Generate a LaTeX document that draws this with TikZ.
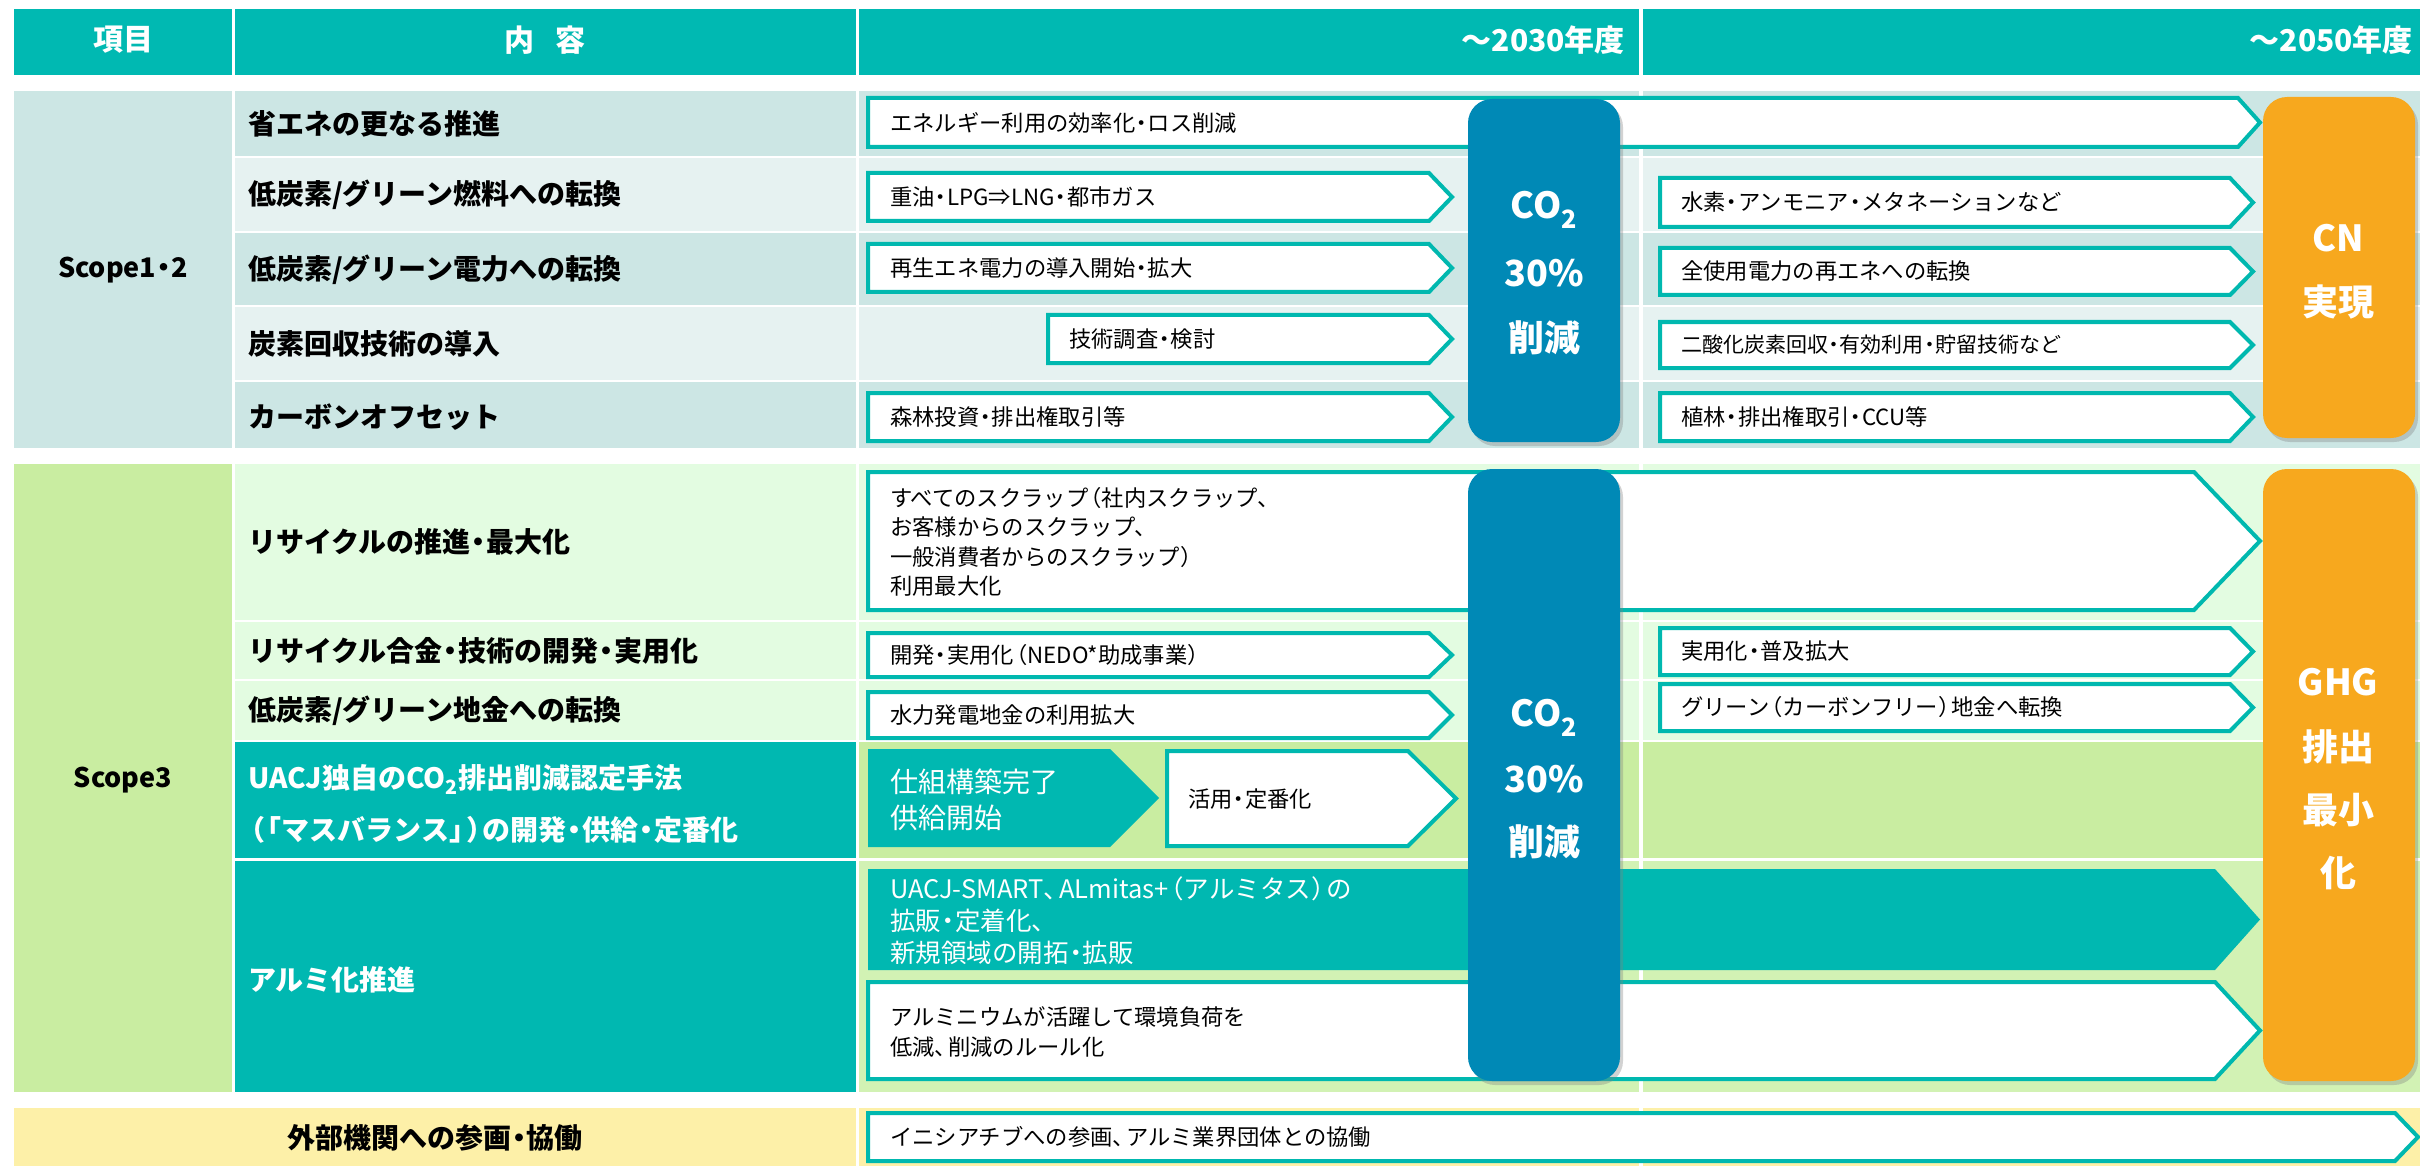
\documentclass[tikz,border=0pt]{standalone}
\usepackage{fontspec}
\setmainfont{Noto Sans CJK JP}
\usetikzlibrary{shadows}
\definecolor{hdr}{HTML}{00B9B2}
\definecolor{rowdk}{HTML}{CCE6E4}
\definecolor{rowlt}{HTML}{E6F2F1}
\definecolor{grn}{HTML}{C9EDA1}
\definecolor{grnlt}{HTML}{E3FCE1}
\definecolor{grnmd}{HTML}{D2F2B4}
\definecolor{tealf}{HTML}{00B8B1}
\definecolor{tealb}{HTML}{00B8AF}
\definecolor{co2blue}{HTML}{0089B6}
\definecolor{orng}{HTML}{F7A81E}
\definecolor{ylw}{HTML}{FDF0A8}
\newcommand\fsz[2]{\fontsize{#1}{#2}\selectfont}
\newcommand\nd{\hspace{-0.22em}・\hspace{-0.22em}}
\newcommand\lpar{\hspace*{-0.4em}（}
\newcommand\rpar{）\hspace{-0.4em}}
\newcommand\tou{、\hspace{-0.4em}}
\newcommand\lkk{\hspace{-0.4em}「}
\newcommand\rkk{」\hspace{-0.4em}}
\newcommand\chevbox[6]{\path[#1] (#2,#3) -- (#4,#3) -- (#5,{(#3+#6)/2}) -- (#4,#6) -- (#2,#6) -- cycle;}
\begin{document}
\begin{tikzpicture}[x=1pt,y=-1pt,
 lbl/.style={anchor=west,inner sep=0pt,font=\fsz{28}{32}\bfseries},
 wlbl/.style={lbl,text=white},
 btxt/.style={anchor=west,inner sep=0pt,font=\fsz{22.3}{29.5}},
 hd/.style={inner sep=0pt,text=white,font=\fsz{30}{34}\bfseries},
 big/.style={inner sep=0pt,text=white,font=\fsz{36}{40}\bfseries},
 abox/.style={draw=tealb,fill=white,line width=4pt},
 tfill/.style={fill=tealf},
 pill/.style={rounded corners=24pt,minimum width=152pt,inner sep=0pt,
   drop shadow={shadow xshift=3pt,shadow yshift=-4pt,opacity=0.35}},
]
\useasboundingbox (0,0) rectangle (2420,1166);
\fill[white] (0,0) rectangle (2420,1166);
% header
\fill[hdr] (14,9) rectangle (232,75);
\fill[hdr] (235,9) rectangle (856,75);
\fill[hdr] (859,9) rectangle (1639,75);
\fill[hdr] (1643,9) rectangle (2420,75);
% scope1-2
\fill[rowdk] (14,91) rectangle (232,448);
\foreach \a/\b/\c in {91/156/rowdk,158/231/rowlt,233/305/rowdk,307/380/rowlt,382/448/rowdk}{
  \fill[\c] (235,\a) rectangle (856,\b);
  \fill[\c] (859,\a) rectangle (1639,\b);
  \fill[\c] (1643,\a) rectangle (2420,\b);
}
% scope3
\fill[grn] (14,464) rectangle (232,1092);
\foreach \a/\b/\c/\d in {464/620/grnlt/grnlt,622/679/grnlt/grnlt,681/740/grnlt/grnlt,742/858/tealf/grn,861/1092/tealf/grnmd}{
  \fill[\c] (235,\a) rectangle (856,\b);
  \fill[\d] (859,\a) rectangle (1639,\b);
  \fill[\d] (1643,\a) rectangle (2420,\b);
}
% external
\fill[ylw] (14,1108) rectangle (856,1166);
\fill[ylw] (859,1108) rectangle (1639,1166);
\fill[ylw] (1643,1108) rectangle (2420,1166);

% arrows scope1-2
\chevbox{abox}{868}{98}{2238}{2260}{147}
\chevbox{abox}{868}{173}{1429}{1452}{221}
\chevbox{abox}{868}{244}{1429}{1452}{292}
\chevbox{abox}{1048}{315}{1429}{1452}{363}
\chevbox{abox}{868}{393}{1429}{1452}{441}
\chevbox{abox}{1660}{178}{2230}{2253}{227}
\chevbox{abox}{1660}{248}{2230}{2253}{295}
\chevbox{abox}{1660}{322}{2230}{2253}{368}
\chevbox{abox}{1660}{393}{2230}{2253}{441}
% arrows scope3
\chevbox{abox}{868}{472}{2194}{2260}{610}
\chevbox{abox}{868}{633}{1429}{1452}{677}
\chevbox{abox}{868}{692}{1429}{1452}{738}
\chevbox{abox}{1660}{628}{2230}{2253}{675}
\chevbox{abox}{1660}{684}{2230}{2253}{731}
\chevbox{tfill}{868}{749}{1110}{1159}{847}
\chevbox{abox}{1167}{751}{1408}{1456}{846}
\chevbox{tfill}{868}{869}{2215}{2260}{970}
\chevbox{abox}{868}{982}{2215}{2260}{1079}
% external
\chevbox{abox}{868}{1113}{2395}{2418}{1161}

% pills
\node[pill,fill=co2blue,minimum height=343pt] (co2a) at (1544,270.5) {};
\node[pill,fill=orng,minimum height=341pt] (cna) at (2339,267.5) {};
\node[pill,fill=co2blue,minimum height=612pt] (co2b) at (1544,775) {};
\node[pill,fill=orng,minimum height=612pt] (cnb) at (2339,775) {};

% header text
\node[hd] (h1) at (123,40) {項目};
\node[hd] (h2) at (545,40) {内\hspace{0.7em}容};
\node[hd,anchor=east] (h3) at (1625,40) {～2030年度};
\node[hd,anchor=east] (h4) at (2413,40) {～2050年度};

% scope labels
\node[inner sep=0pt,font=\fsz{27}{32}\bfseries] (sc1) at (123,270) {Scope1\nd 2};
\node[inner sep=0pt,font=\fsz{27}{32}\bfseries] (sc3) at (123,780) {Scope3};

% row labels
\node[lbl] (l1) at (248,123.5) {省エネの更なる推進};
\node[lbl] (l2) at (248,195) {低炭素/グリーン燃料への転換};
\node[lbl] (l3) at (248,269.5) {低炭素/グリーン電力への転換};
\node[lbl] (l4) at (248,344) {炭素回収技術の導入};
\node[lbl] (l5) at (248,417) {カーボンオフセット};
\node[lbl] (m1) at (248,542) {リサイクルの推進\nd 最大化};
\node[lbl] (m2) at (248,651) {リサイクル合金\nd 技術の開発\nd 実用化};
\node[lbl] (m3) at (248,711) {低炭素/グリーン地金への転換};
\node[wlbl,align=left,font=\fsz{28}{52}\bfseries] (m4) at (248,804) {UACJ独自のCO\textsubscript{2}排出削減認定手法\\\lpar\lkk マスバランス\rkk\rpar の開発\nd 供給\nd 定番化};
\node[wlbl] (m5) at (248,980) {アルミ化推進};
\node[inner sep=0pt,font=\fsz{28}{32}\bfseries] (ext) at (435,1138) {外部機関への参画\nd 協働};

% box texts scope1-2
\node[btxt] (t1) at (890,122.5) {エネルギー利用の効率化\nd ロス削減};
\node[btxt] (t2) at (890,197) {重油\nd LPG⇒LNG\nd 都市ガス};
\node[btxt] (t3) at (890,268) {再生エネ電力の導入開始\nd 拡大};
\node[btxt] (t4) at (1069,339) {技術調査\nd 検討};
\node[btxt] (t5) at (890,417) {森林投資\nd 排出権取引等};
\node[btxt] (u2) at (1681,202.5) {水素\nd アンモニア\nd メタネーションなど};
\node[btxt] (u3) at (1681,271.5) {全使用電力の再エネへの転換};
\node[btxt,font=\fsz{21}{26}] (u4) at (1681,345) {二酸化炭素回収\nd 有効利用\nd 貯留技術など};
\node[btxt] (u5) at (1681,417) {植林\nd 排出権取引\nd CCU等};
% box texts scope3
\node[btxt,align=left] (v1) at (890,542) {すべてのスクラップ\lpar 社内スクラップ、\\お客様からのスクラップ、\\一般消費者からのスクラップ\rpar\\利用最大化};
\node[btxt] (v2) at (890,655) {開発\nd 実用化\lpar NEDO*助成事業\rpar};
\node[btxt] (v3) at (890,715) {水力発電地金の利用拡大};
\node[btxt] (w2) at (1681,651.5) {実用化\nd 普及拡大};
\node[btxt] (w3) at (1681,707.5) {グリーン\lpar カーボンフリー\rpar 地金へ転換};
\node[btxt,text=white,align=left,font=\fsz{28}{36}] (v4) at (890,800) {仕組構築完了\\供給開始};
\node[btxt] (v5) at (1188,799) {活用\nd 定番化};
\node[btxt,text=white,align=left,font=\fsz{25.5}{32}] (v6) at (890,921) {UACJ-SMART\tou ALmitas+\lpar アルミタス\rpar の\\拡販\nd 定着化、\\新規領域の開拓\nd 拡販};
\node[btxt,align=left,font=\fsz{22.3}{30}] (v7) at (890,1032) {アルミニウムが活躍して環境負荷を\\低減\tou 削減のルール化};
\node[btxt] (x1) at (890,1137) {イニシアチブへの参画\tou アルミ業界団体との協働};

% pill texts
\node[big] (p1) at (1544,210) {CO\textsubscript{2}};
\node[big] (p2) at (1544,273) {30\%};
\node[big] (p3) at (1544,338) {削減};
\node[big] (q1) at (2338,238) {CN};
\node[big] (q2) at (2338,302) {実現};
\node[big] (p4) at (1544,718) {CO\textsubscript{2}};
\node[big] (p5) at (1544,779) {30\%};
\node[big] (p6) at (1544,842) {削減};
\node[big] (q3) at (2338,682) {GHG};
\node[big] (q4) at (2338,747) {排出};
\node[big] (q5) at (2338,810) {最小};
\node[big] (q6) at (2338,873) {化};
\end{tikzpicture}
\end{document}
